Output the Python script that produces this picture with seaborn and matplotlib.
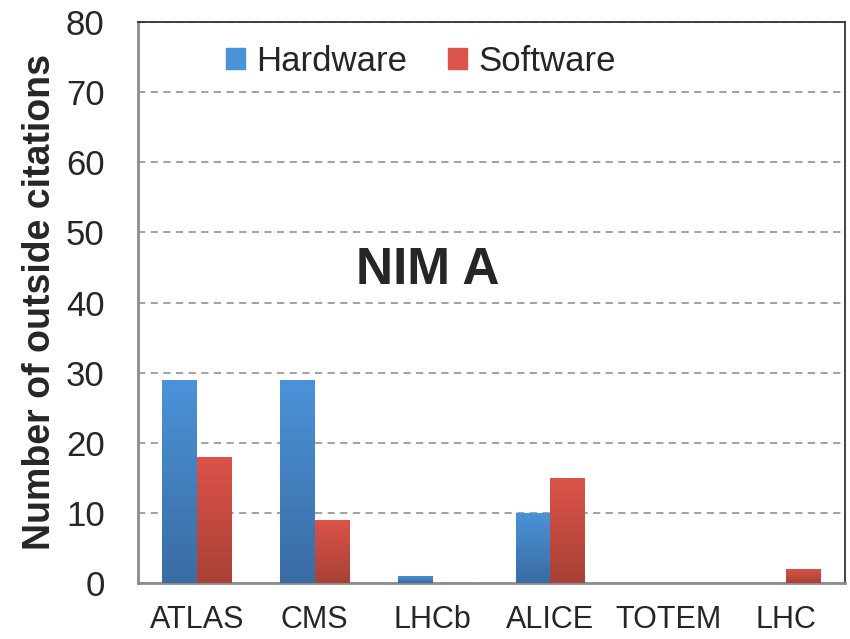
import numpy as np
import pandas as pd
import matplotlib
matplotlib.use("Agg")
import matplotlib.pyplot as plt
import seaborn as sns
from matplotlib.colors import LinearSegmentedColormap

# data
experiments = ["ATLAS", "CMS", "LHCb", "ALICE", "TOTEM", "LHC"]
hardware = [29, 29, 1, 10, 0, 0]
software = [18, 9, 0, 15, 0, 2]
yticks = [0, 10, 20, 30, 40, 50, 60, 70, 80]

df = pd.DataFrame({
    "experiment": experiments * 2,
    "kind": ["Hardware"] * len(experiments) + ["Software"] * len(experiments),
    "citations": hardware + software,
})

sns.set_style("white")
plt.rcParams["font.family"] = ["Liberation Sans", "DejaVu Sans"]

blue_top, blue_bot = "#4b93d9", "#3a6ca3"
red_top, red_bot = "#dc5349", "#a84136"

fig = plt.figure(figsize=(8.5, 6.39), dpi=100)
ax = fig.add_axes([138 / 850, 1 - 583 / 639, 707 / 850, 561 / 639])

sns.barplot(data=df, x="experiment", y="citations", hue="kind",
            palette=[blue_top, red_top], width=0.59, ax=ax,
            saturation=1, zorder=3, legend=False, linewidth=0)

# vertical gradient fill on each bar, clipped to the bar
grad = np.linspace(0, 1, 256).reshape(-1, 1)
cmaps = [LinearSegmentedColormap.from_list("b", [blue_bot, blue_top]),
         LinearSegmentedColormap.from_list("r", [red_bot, red_top])]
n = len(experiments)
for i, p in enumerate(ax.patches[:2 * n]):
    h = p.get_height()
    if h <= 0:
        p.set_visible(False)
        continue
    x0 = p.get_x()
    w = p.get_width()
    im = ax.imshow(grad, extent=[x0, x0 + w, 0, h], origin="lower",
                   cmap=cmaps[i // n], aspect="auto", zorder=4)
    im.set_clip_path(p)

ax.set_xlim(-0.5, n - 0.5)
ax.set_ylim(0, 80)
ax.set_yticks(yticks)
ax.set_yticklabels([str(v) for v in yticks], fontsize=25)
ax.tick_params(axis="y", length=0, pad=24)
ax.tick_params(axis="x", which="major", length=0, pad=16, labelsize=22)
ax.set_xticks(np.arange(-0.5, n, 1.0), minor=True)
ax.tick_params(axis="x", which="minor", length=8, width=1.5, color="#8c8c8c",
               direction="out")
ax.set_xlabel("")
ax.set_ylabel("Number of outside citations", fontsize=27, fontweight="bold",
              labelpad=6)

ax.yaxis.grid(True, linestyle=(0, (4, 3)), color="#9a9a9a", linewidth=1.3,
              zorder=0)
ax.set_axisbelow(True)

for s in ["left", "bottom"]:
    ax.spines[s].set_color("#8c8c8c")
    ax.spines[s].set_linewidth(2)
for s in ["top", "right"]:
    ax.spines[s].set_color("#222222")
    ax.spines[s].set_linewidth(1.2)

handles = [plt.Rectangle((0, 0), 1, 1, color=blue_top),
           plt.Rectangle((0, 0), 1, 1, color=red_top)]
ax.legend(handles, ["Hardware", "Software"], loc="upper center",
          bbox_to_anchor=(0.40, 1.015), ncol=2, frameon=False, fontsize=25,
          handlelength=0.55, handleheight=0.55, handletextpad=0.3,
          columnspacing=1.2)

ax.text(0.41, 44.5, "NIM A", transform=ax.get_yaxis_transform(),
        ha="center", va="center", fontsize=37, fontweight="bold")

fig.savefig("out.png", dpi=100)
